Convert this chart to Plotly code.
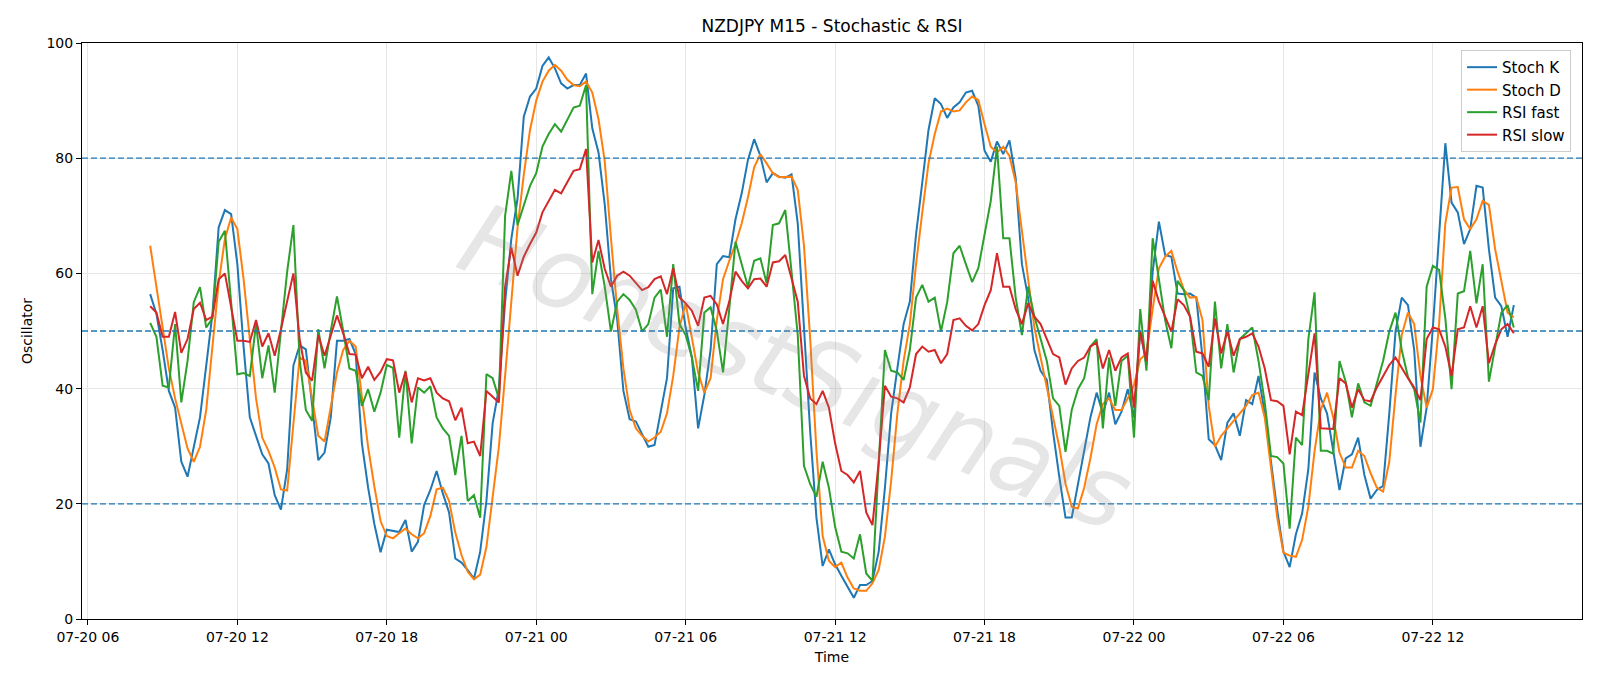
import pandas as pd
import plotly.graph_objects as go

# ---------------- data ----------------
start_time = "2025-07-20 08:30"
bar_freq = "15min"

stoch_k = [
    56.4, 53.0, 46.7, 39.6, 36.7, 27.3, 24.7, 29.9, 35.0, 44.0,
    53.0, 68.0, 71.0, 70.3, 61.6, 47.3, 35.0, 31.8, 28.6, 27.0,
    21.5, 19.0, 26.0, 44.0, 47.5, 46.8, 37.0, 27.6, 28.9, 35.0,
    48.3, 48.3, 48.6, 46.0, 30.5, 22.8, 16.5, 11.6, 15.5, 15.3,
    15.1, 17.2, 11.7, 13.4, 19.8, 22.4, 25.7, 21.8, 18.5, 10.5,
    9.8, 8.5, 7.0, 11.7, 20.5, 34.0, 40.0, 55.0, 66.0, 73.0,
    87.2, 90.7, 92.1, 96.0, 97.5, 95.6, 93.0, 92.1, 92.7, 92.7,
    94.7, 85.2, 81.0, 72.0, 59.0, 52.0, 39.6, 34.7, 34.3, 32.1,
    29.9, 30.2, 36.3, 41.8, 57.4, 57.7, 50.6, 45.4, 33.1, 38.9,
    46.7, 61.6, 63.0, 62.8, 69.4, 73.9, 79.7, 83.3, 80.4, 75.8,
    77.4, 76.8, 76.6, 77.2, 68.7, 51.2, 32.5, 17.6, 9.2, 12.1,
    9.5, 7.5, 5.6, 3.7, 5.9, 5.9, 6.6, 11.7, 22.8, 35.7,
    43.5, 51.2, 55.1, 66.8, 75.8, 84.9, 90.4, 89.4, 87.0, 88.8,
    89.7, 91.4, 91.7, 89.1, 81.3, 79.4, 82.9, 80.7, 83.1, 76.5,
    61.6, 55.8, 46.7, 43.1, 41.5, 32.5, 24.7, 17.6, 17.6, 23.4,
    29.2, 35.0, 39.3, 35.7, 39.3, 33.8, 36.0, 39.9, 35.0, 50.0,
    44.1, 60.3, 69.0, 63.2, 62.9, 56.5, 56.4, 56.5, 55.8, 45.4,
    31.2, 30.2, 27.6, 34.1, 35.7, 31.8, 38.0, 37.3, 42.2, 35.7,
    27.3, 18.9, 11.7, 9.0, 14.7, 18.3, 26.0, 42.8, 38.3, 35.7,
    29.2, 22.4, 27.9, 28.6, 31.5, 25.0, 20.9, 22.4, 23.1, 35.7,
    49.9, 55.8, 54.5, 46.7, 29.9, 36.7, 50.6, 66.8, 82.6, 72.3,
    70.6, 65.1, 67.7, 75.2, 74.9, 64.2, 55.8, 54.3, 49.0, 54.5,
]

stoch_d = [
    64.8, 57.7, 50.0, 43.5, 38.3, 33.8, 29.6, 27.3, 29.9, 36.3,
    47.3, 58.3, 66.0, 69.7, 67.7, 59.0, 48.6, 38.3, 31.5, 29.2,
    26.3, 22.5, 22.3, 33.8, 45.4, 44.8, 38.3, 31.8, 30.8, 37.0,
    42.8, 46.7, 48.3, 47.3, 38.3, 29.9, 23.0, 17.0, 14.4, 14.0,
    14.9, 15.7, 14.7, 14.0, 14.9, 17.9, 22.5, 22.8, 20.5, 15.0,
    11.1, 8.2, 6.9, 7.7, 12.5, 20.8, 29.9, 42.2, 55.0, 68.0,
    77.1, 84.9, 90.0, 93.3, 95.2, 96.2, 95.2, 93.6, 92.7, 92.5,
    93.3, 91.4, 86.8, 79.5, 66.1, 53.8, 43.5, 36.3, 33.1, 31.8,
    30.8, 31.5, 32.5, 35.7, 42.2, 50.6, 54.8, 48.6, 42.8, 39.3,
    41.8, 51.9, 59.0, 62.2, 65.1, 68.7, 73.2, 78.4, 80.7, 79.1,
    77.4, 76.7, 76.8, 76.8, 74.5, 64.8, 48.6, 29.2, 14.4, 10.1,
    9.0, 9.8, 7.2, 5.3, 4.9, 4.9, 6.2, 8.5, 14.3, 24.0,
    35.7, 44.8, 51.2, 61.6, 70.6, 79.1, 84.2, 88.1, 88.6, 88.1,
    88.3, 89.7, 90.7, 90.1, 85.9, 82.0, 81.0, 82.0, 80.4, 75.8,
    67.4, 58.7, 50.6, 45.4, 40.2, 35.0, 29.9, 23.5, 19.5, 19.2,
    22.8, 27.9, 33.8, 37.3, 38.3, 36.3, 36.3, 38.3, 40.6, 45.1,
    46.1, 53.8, 60.9, 62.9, 63.9, 60.3, 57.2, 55.8, 55.9, 51.9,
    37.0, 29.9, 31.8, 33.1, 34.4, 35.7, 37.0, 38.9, 39.3, 35.0,
    26.0, 17.6, 11.5, 11.0, 10.8, 13.7, 19.5, 29.2, 36.3, 39.3,
    35.0, 28.9, 26.3, 26.3, 29.2, 28.3, 25.3, 22.8, 22.1, 27.3,
    38.9, 49.3, 53.2, 51.2, 42.2, 36.7, 39.9, 51.2, 68.7, 74.9,
    75.0, 69.4, 67.7, 69.4, 72.6, 71.9, 64.2, 59.0, 53.2, 52.4,
]

rsi_fast = [
    51.4, 49.0, 40.5, 40.2, 51.2, 37.6, 44.8, 55.0, 57.6, 50.6,
    52.2, 65.5, 67.4, 55.0, 42.5, 42.7, 42.2, 51.2, 41.8, 47.5,
    39.3, 50.0, 60.3, 68.4, 45.0, 36.3, 34.4, 50.3, 43.5, 50.0,
    56.0, 50.0, 43.5, 43.1, 37.0, 39.9, 36.0, 39.3, 44.1, 43.6,
    31.5, 43.1, 30.5, 40.2, 39.3, 40.4, 35.0, 33.1, 31.8, 25.0,
    31.8, 20.5, 21.5, 17.6, 42.5, 41.8, 38.3, 70.0, 77.8, 68.4,
    71.9, 75.2, 77.4, 82.0, 84.2, 85.9, 84.6, 86.8, 88.8, 89.1,
    92.7, 56.4, 63.9, 57.7, 49.9, 55.1, 56.4, 55.4, 53.7, 49.9,
    51.2, 55.8, 57.2, 49.0, 61.6, 51.2, 49.3, 45.4, 39.6, 53.2,
    54.1, 50.0, 42.8, 53.8, 65.5, 61.6, 57.7, 62.2, 62.6, 58.3,
    68.4, 68.7, 71.0, 60.3, 49.3, 26.6, 23.4, 21.2, 27.3, 22.8,
    16.0, 11.7, 11.4, 10.5, 14.7, 7.9, 6.6, 27.0, 46.7, 43.1,
    42.8, 41.5, 46.7, 55.8, 58.0, 55.1, 55.8, 49.9, 55.0, 63.5,
    64.8, 61.6, 58.5, 60.9, 66.8, 72.6, 82.0, 66.1, 66.1, 55.8,
    49.3, 57.7, 52.5, 48.6, 44.8, 38.3, 37.0, 29.0, 36.3, 39.9,
    41.8, 47.3, 48.6, 33.1, 45.4, 37.0, 44.8, 45.7, 31.5, 53.8,
    43.1, 66.1, 59.0, 51.9, 47.0, 58.7, 57.1, 52.5, 42.8, 42.2,
    38.0, 55.1, 43.5, 51.2, 42.8, 48.6, 49.6, 50.6, 44.8, 37.6,
    28.3, 28.1, 27.0, 15.7, 31.5, 30.2, 48.6, 56.7, 29.2, 29.2,
    28.7, 44.8, 41.2, 35.0, 40.9, 37.6, 37.0, 40.9, 44.8, 49.9,
    53.2, 46.7, 42.0, 39.9, 34.1, 57.7, 61.3, 60.6, 52.2, 39.9,
    56.5, 56.9, 63.9, 54.8, 61.6, 41.2, 47.3, 53.2, 54.5, 50.6,
]

rsi_slow = [
    54.3, 53.2, 49.0, 49.0, 53.3, 46.2, 48.6, 53.8, 54.9, 51.9,
    52.5, 59.0, 60.0, 53.8, 48.3, 48.3, 48.1, 51.9, 47.3, 49.6,
    45.7, 50.3, 55.1, 60.0, 48.6, 42.8, 41.4, 49.3, 45.7, 49.3,
    52.7, 49.6, 46.0, 45.9, 41.8, 43.8, 41.5, 42.9, 45.1, 44.9,
    39.3, 42.9, 37.6, 41.8, 41.4, 41.8, 39.3, 38.3, 37.8, 34.5,
    36.7, 30.5, 30.8, 28.3, 39.6, 38.6, 37.6, 57.7, 64.5, 59.6,
    62.9, 65.1, 67.1, 70.6, 72.6, 74.5, 73.9, 75.8, 77.8, 78.1,
    81.6, 61.9, 65.8, 60.8, 57.7, 59.6, 60.3, 59.6, 58.3, 57.1,
    57.6, 59.0, 59.5, 56.4, 60.9, 55.8, 54.8, 53.5, 50.9, 55.8,
    56.1, 54.6, 51.2, 55.1, 60.3, 58.7, 57.4, 59.0, 59.1, 57.7,
    61.9, 62.1, 63.2, 59.0, 55.1, 42.2, 38.3, 37.3, 39.6, 36.7,
    30.5, 25.7, 25.0, 23.7, 25.7, 18.5, 16.3, 27.3, 40.5, 38.6,
    38.3, 37.6, 40.2, 46.0, 47.3, 46.4, 46.7, 44.4, 46.0, 51.9,
    52.2, 50.9, 50.1, 51.2, 54.5, 57.1, 63.5, 57.7, 57.7, 53.8,
    51.2, 54.8, 52.5, 51.2, 48.6, 46.0, 45.4, 40.7, 43.5, 44.8,
    45.4, 47.3, 48.0, 43.5, 46.7, 43.1, 45.4, 46.1, 36.7, 49.9,
    44.8, 58.7, 55.1, 52.5, 49.9, 55.5, 54.5, 52.5, 46.4, 46.1,
    43.8, 52.2, 46.1, 49.9, 45.7, 48.6, 49.0, 49.6, 47.3, 43.5,
    38.0, 37.8, 37.0, 28.6, 36.0, 35.4, 42.2, 49.6, 33.1, 33.1,
    33.0, 41.8, 40.9, 36.7, 39.9, 38.0, 37.8, 40.2, 42.2, 44.1,
    45.4, 43.5, 41.8, 40.2, 38.0, 48.6, 50.6, 50.3, 47.3, 42.2,
    50.3, 50.6, 54.3, 50.6, 54.3, 44.4, 47.7, 50.3, 51.2, 49.6,
]

series_names = ["Stoch K", "Stoch D", "RSI fast", "RSI slow"]
series_colors = ["#1f77b4", "#ff7f0e", "#2ca02c", "#d62728"]
levels = [80, 50, 20]
x_range = ["2025-07-20 05:45:45", "2025-07-22 17:59:15"]
y_range = [0, 100]
y_ticks = [0, 20, 40, 60, 80, 100]

times = pd.date_range(start_time, periods=len(stoch_k), freq=bar_freq)

# ---------------- figure ----------------
FONT = "DejaVu Sans"
fig = go.Figure()

for name, vals, col in zip(series_names, [stoch_k, stoch_d, rsi_fast, rsi_slow], series_colors):
    fig.add_trace(go.Scatter(x=times, y=vals, mode="lines", name=name,
                             line=dict(color=col, width=2)))

for lv in levels:
    fig.add_hline(y=lv, line=dict(color="#1f77b4", width=1.3, dash="6px,3px"))

fig.add_annotation(
    text="HonestSignals", xref="paper", yref="paper", x=0.476, y=0.437,
    showarrow=False, textangle=22,
    font=dict(family=FONT, size=100, color="rgba(140,140,140,0.22)", style="italic"),
)

fig.update_layout(
    width=1600, height=686,
    margin=dict(l=82, r=18, t=43, b=67),
    paper_bgcolor="white", plot_bgcolor="white",
    font=dict(family=FONT, size=14, color="black"),
    title=dict(text="NZDJPY M15 - Stochastic & RSI", x=0.5, xref="paper",
               y=1 - 26 / 686, yref="container", yanchor="middle",
               font=dict(size=17)),
    legend=dict(x=0.9927, y=0.988, xanchor="right", yanchor="top",
                bgcolor="rgba(255,255,255,0.8)", bordercolor="#cccccc", borderwidth=1,
                font=dict(size=15), itemwidth=30, tracegroupgap=0),
    showlegend=True,
)

fig.update_xaxes(
    type="date", range=x_range, tickformat="%m-%d %H",
    tick0="2025-07-20 06:00", dtick=6 * 3600 * 1000,
    ticks="outside", ticklen=5, tickcolor="black",
    showline=True, linecolor="black", linewidth=1, mirror=True,
    showgrid=True, gridcolor="#e6e6e6", gridwidth=1,
    title=dict(text="Time", standoff=8, font=dict(size=14)),
    zeroline=False,
)
fig.update_yaxes(
    range=y_range, tickvals=y_ticks,
    ticks="outside", ticklen=5, tickcolor="black",
    showline=True, linecolor="black", linewidth=1, mirror=True,
    showgrid=True, gridcolor="#e6e6e6", gridwidth=1,
    title=dict(text="Oscillator", standoff=10, font=dict(size=14)),
    zeroline=False,
)

fig.write_html("out.html")
